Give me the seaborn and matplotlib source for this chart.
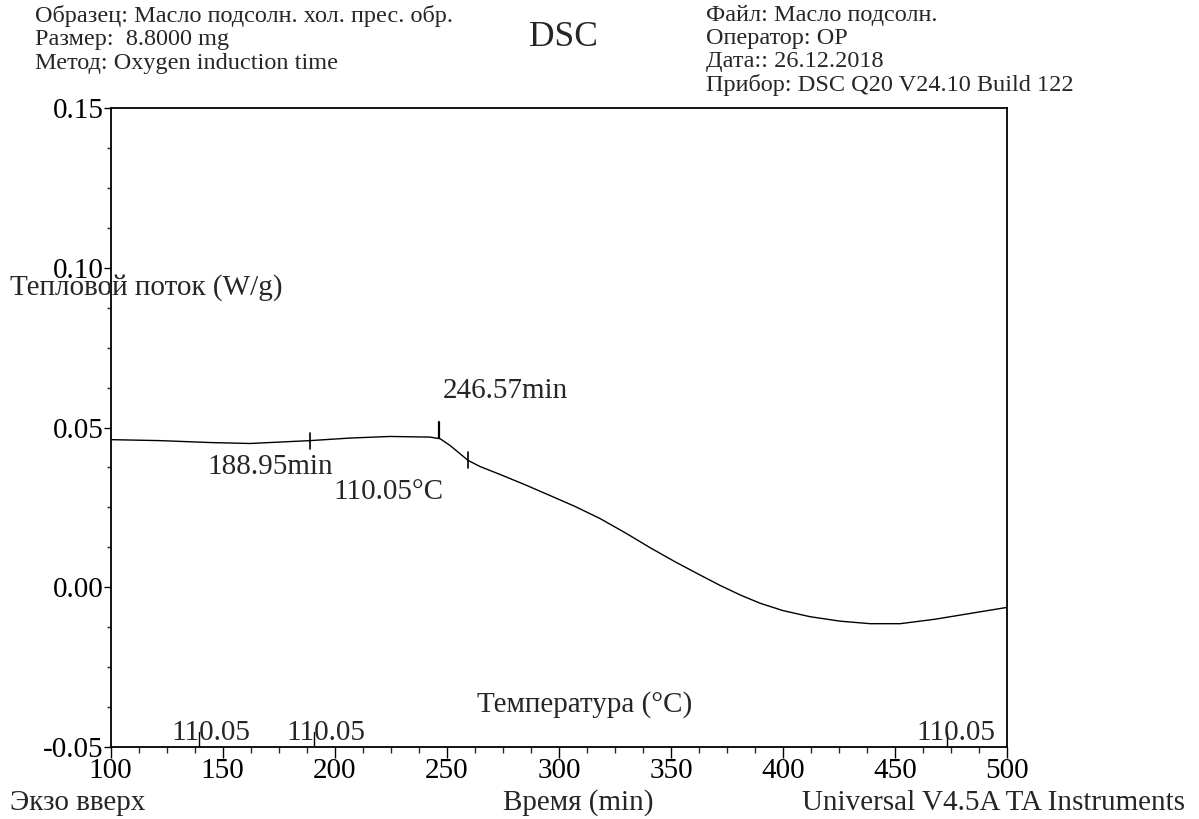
import matplotlib
matplotlib.use("Agg")
import matplotlib.pyplot as plt
import pandas as pd
import seaborn as sns
from matplotlib.ticker import MultipleLocator

# DSC curve
time_min = [100.0, 122.0, 144.3, 162.2, 180.0, 189.0, 206.8, 224.6, 242.5, 247.0,
            251.4, 255.9, 259.5, 264.8, 273.8, 284.9, 296.1, 307.2, 318.4, 329.5,
            340.7, 351.8, 363.1, 371.9, 380.9, 389.8, 400.0, 412.0, 425.4, 438.9,
            452.3, 467.9, 483.5, 500.0]
heat_flow = [0.0462, 0.0459, 0.0453, 0.0450, 0.0456, 0.0459, 0.0467, 0.0472, 0.0470, 0.0465,
             0.0444, 0.0418, 0.0397, 0.0378, 0.0353, 0.0321, 0.0287, 0.0253, 0.0215, 0.0171,
             0.0124, 0.0080, 0.0038, 0.0006, -0.0024, -0.0050, -0.0073, -0.0092, -0.0106, -0.0114,
             -0.0114, -0.0100, -0.0082, -0.0063]

# analysis marks on the curve: (time, low, high)
cross_marks = [(188.95, 0.0434, 0.0484), (259.5, 0.0372, 0.0422)]
onset_mark = (246.57, 0.0468, 0.0518)

# temperature marks along the bottom axis
temp_ticks = [139.5, 190.8, 473.0]
temp_labels = ["110.05", "110.05", "110.05"]
temp_label_shift = [5.2, 5.2, 4.0]

header_left = ["Образец: Масло подсолн. хол. прес. обр.",
               "Размер:  8.8000 mg",
               "Метод: Oxygen induction time"]
header_right = ["Файл: Масло подсолн.",
                "Оператор: OP",
                "Дата:: 26.12.2018",
                "Прибор: DSC Q20 V24.10 Build 122"]

sns.set_theme(style="ticks")
plt.rcParams["font.family"] = ["Liberation Serif", "DejaVu Serif"]

fig = plt.figure(figsize=(11.99, 8.19), dpi=100)
ax = fig.add_axes([0.0923, 0.0879, 0.7476, 0.7802])

df = pd.DataFrame({"t": time_min, "hf": heat_flow})
sns.lineplot(data=df, x="t", y="hf", ax=ax, color="black", linewidth=1.0,
             estimator=None, sort=False)

for t, lo, hi in cross_marks:
    ax.plot([t, t], [lo, hi], color="black", lw=1.2)
ax.plot([onset_mark[0]] * 2, list(onset_mark[1:]), color="black", lw=1.6)

for t in temp_ticks:
    ax.plot([t, t], [-0.05, -0.0452], color="black", lw=1.0)
for t, lab, dx in zip(temp_ticks, temp_labels, temp_label_shift):
    ax.text(t + dx, -0.0456, lab, ha="center", va="center", fontsize=21)

ax.text(248.3, 0.0613, "246.57min", ha="left", va="center", fontsize=21)
ax.text(143.4, 0.0375, "188.95min", ha="left", va="center", fontsize=21)
ax.text(199.3, 0.0298, "110.05°C", ha="left", va="center", fontsize=21)
ax.text(0.529, 0.067, "Температура (°C)", transform=ax.transAxes,
        ha="center", va="center", fontsize=21)

ax.set_xlim(100, 500)
ax.set_ylim(-0.05, 0.15)
ax.xaxis.set_major_locator(MultipleLocator(50))
ax.xaxis.set_minor_locator(MultipleLocator(12.5))
ax.yaxis.set_minor_locator(MultipleLocator(0.0125))
ax.set_yticks([-0.05, 0.0, 0.05, 0.10, 0.15])
ax.set_yticklabels(["-0.05", "0.00", "0.05", "0.10", "0.15"])
ax.tick_params(axis="x", which="major", direction="out", length=8, width=1,
               labelsize=21, pad=0, colors="black")
ax.tick_params(axis="x", which="minor", direction="out", length=4, width=1)
ax.tick_params(axis="y", which="major", direction="out", length=5, width=1,
               labelsize=21, pad=0, colors="black")
ax.tick_params(axis="y", which="minor", direction="out", length=3, width=1)
for s in ax.spines.values():
    s.set_visible(True)
    s.set_color("black")
    s.set_linewidth(1.3)
ax.set_xlabel("")
ax.set_ylabel("")

# header and footer texts in figure pixels
W, H = 1199, 819
for i, line in enumerate(header_left):
    fig.text(35 / W, 1 - (16 + 24 * i) / H, line, ha="left", va="center", fontsize=17.5)
for i, line in enumerate(header_right):
    fig.text(706 / W, 1 - (15 + 23.3 * i) / H, line, ha="left", va="center", fontsize=17.5)
fig.text(563 / W, 1 - 37 / H, "DSC", ha="center", va="center", fontsize=25.5)

fig.text(10 / W, 1 - 288 / H, "Тепловой поток (W/g)", ha="left", va="center", fontsize=21)
fig.text(10 / W, 1 - 803 / H, "Экзо вверх", ha="left", va="center", fontsize=21)
fig.text(578 / W, 1 - 803 / H, "Время (min)", ha="center", va="center", fontsize=21)
fig.text(1185 / W, 1 - 803 / H, "Universal V4.5A TA Instruments", ha="right",
         va="center", fontsize=21)

fig.savefig("out.png", dpi=100)
